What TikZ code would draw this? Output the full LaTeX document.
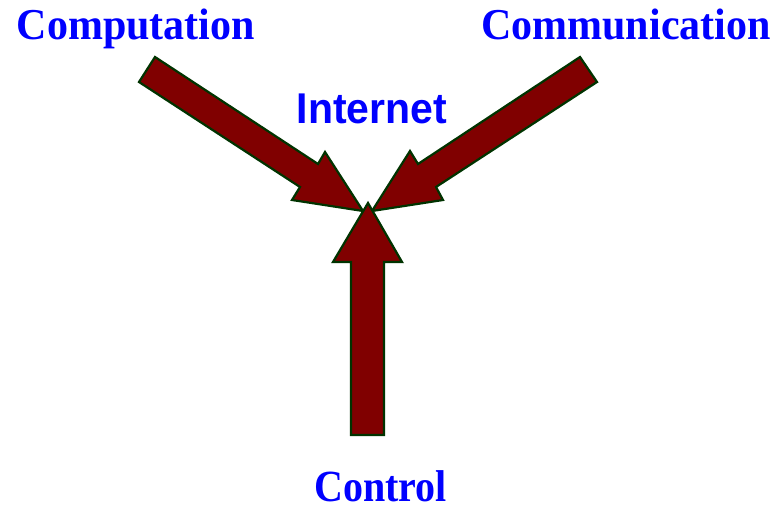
\documentclass[tikz,border=0pt]{standalone}
\usepackage{fontspec}
\setmainfont{Liberation Serif}
\setsansfont{Liberation Sans}
\begin{document}
\begin{tikzpicture}[x=1pt,y=-1pt,
  blockarrow/.style={fill={rgb,255:red,128;green,0;blue,0},draw={rgb,255:red,0;green,51;blue,0},line width=2.2pt,line join=miter},
  lbl/.style={text={rgb,255:red,0;green,0;blue,255},inner sep=0pt,anchor=base,yscale=1.05},
  serifl/.style={lbl,font=\fontsize{42}{42}\selectfont\bfseries},
  sansl/.style={lbl,font=\fontsize{41}{41}\selectfont\sffamily\bfseries}]
\useasboundingbox (0,0) rectangle (782,508);
% left arrow
\draw[blockarrow] (155,57) -- (318,164) -- (325,152) -- (363,211) -- (292,200) -- (300,187) -- (139,82) -- cycle;
% right arrow
\draw[blockarrow] (580,57) -- (597,82) -- (436,187) -- (443,200) -- (372,211) -- (410,151) -- (418,164) -- cycle;
% bottom arrow
\draw[blockarrow] (368,203) -- (402,262) -- (384,262) -- (384,435) -- (351,435) -- (351,262) -- (333,262) -- cycle;
\node[serifl] (computation) at (136,40) {Computation};
\node[serifl] (communication) at (626,40) {Communication};
\node[sansl] (internet) at (372,124) {Internet};
\node[serifl,font=\fontsize{40}{40}\selectfont\bfseries,yscale=1.06] (control) at (380.5,501.5) {Control};
\end{tikzpicture}
\end{document}
